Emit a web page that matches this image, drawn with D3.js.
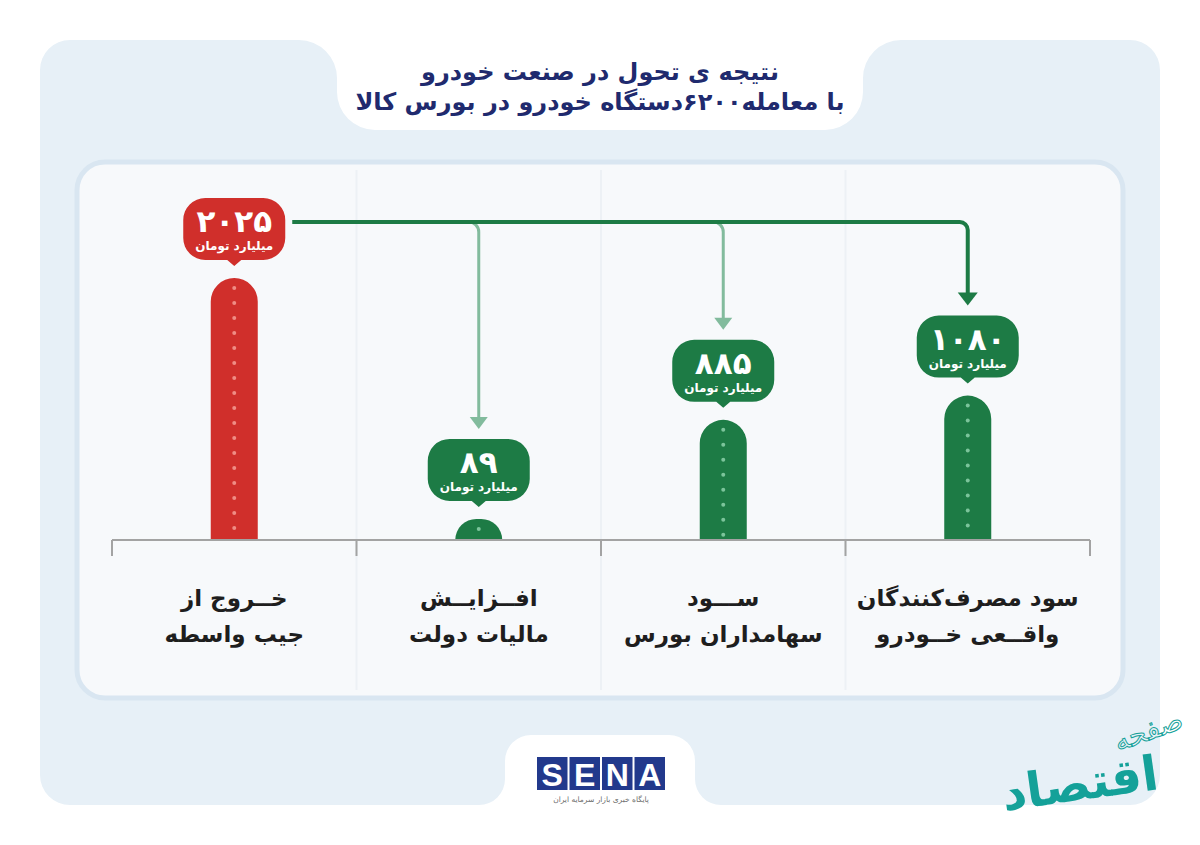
<!DOCTYPE html>
<html>
<head>
<meta charset="utf-8">
<script src="https://cdn.jsdelivr.net/npm/d3@7"></script>
<style>
  html, body { margin: 0; padding: 0; background: #ffffff; }
  svg { display: block; }
</style>
</head>
<body>
<svg id="chart"></svg>
<script>
// data
var titleLines = ["نتیجه ی تحول در صنعت خودرو", "با معامله۶۲۰۰دستگاه خودرو در بورس کالا"];
var categories = ["واسطه", "مالیات", "سهامداران", "مصرف‌کنندگان"];
var labelLines = [
    ["خــروج از", "جیب واسطه"],
    ["افــزایــش", "مالیات دولت"],
    ["ســـود", "سهامداران بورس"],
    ["سود مصرف‌کنندگان", "واقــعی خــودرو"]
];
var values = [2025, 89, 885, 1080];
var kinds = ["loss", "gain", "gain", "gain"];
var unitLabel = "میلیارد تومان";

var w = 1200, h = 845;
var font = "'DejaVu Sans', sans-serif";
var colors = {
    loss: "#d02f2b", lossDot: "#ef8c84",
    gain: "#1d7b45", gainDot: "#7cc49b",
    branch: "#82bb9d",
    title: "#202a6e",
    label: "#1e1e1e",
    panel: "#e7f0f7",
    card: "#f7f9fb",
    cardLine: "#d9e6f1",
    axis: "#a3a3a3"
};

var baseY = 540, topY = 278;
var axisLeft = 112, axisRight = 1090;

var svg = d3.select("#chart").attr("width", w).attr("height", h);

function drawBackground() {
    var R = 30, r = 38, r2 = 26;
    var L = 40, T = 40, Rt = 1160, B = 805;
    var xl = 337, xr = 863, yb = 130;
    var xl2 = 505, xr2 = 695, yt = 735;
    var p = d3.path();
    p.moveTo(L + R, T);
    p.lineTo(xl - r, T);
    p.arcTo(xl, T, xl, T + r, r);
    p.lineTo(xl, yb - r);
    p.arcTo(xl, yb, xl + r, yb, r);
    p.lineTo(xr - r, yb);
    p.arcTo(xr, yb, xr, yb - r, r);
    p.lineTo(xr, T + r);
    p.arcTo(xr, T, xr + r, T, r);
    p.lineTo(Rt - R, T);
    p.arcTo(Rt, T, Rt, T + R, R);
    p.lineTo(Rt, B - R);
    p.arcTo(Rt, B, Rt - R, B, R);
    p.lineTo(xr2 + r2, B);
    p.arcTo(xr2, B, xr2, B - r2, r2);
    p.lineTo(xr2, yt + r2);
    p.arcTo(xr2, yt, xr2 - r2, yt, r2);
    p.lineTo(xl2 + r2, yt);
    p.arcTo(xl2, yt, xl2, yt + r2, r2);
    p.lineTo(xl2, B - r2);
    p.arcTo(xl2, B, xl2 - r2, B, r2);
    p.lineTo(L + R, B);
    p.arcTo(L, B, L, B - R, R);
    p.lineTo(L, T + R);
    p.arcTo(L, T, L + R, T, R);
    p.closePath();
    svg.append("path").attr("d", p.toString()).attr("fill", colors.panel);

    svg.append("rect")
        .attr("x", 77).attr("y", 162)
        .attr("width", 1046).attr("height", 536)
        .attr("rx", 28)
        .attr("fill", colors.card)
        .attr("stroke", colors.cardLine)
        .attr("stroke-width", 5);
}

function drawTitle() {
    svg.selectAll(".title")
        .data(titleLines)
        .enter().append("text")
        .attr("class", "title")
        .attr("x", w / 2)
        .attr("y", function(d, i) { return 80 + i * 30; })
        .attr("text-anchor", "middle")
        .attr("direction", "rtl")
        .attr("font-family", font)
        .attr("font-weight", "bold")
        .attr("font-size", "24px")
        .attr("fill", colors.title)
        .text(function(d) { return d; });
}

function barPath(cx, top, bottom, bw) {
    var rad = Math.min(bw / 2, bottom - top);
    var x0 = cx - bw / 2, x1 = cx + bw / 2;
    var p = d3.path();
    p.moveTo(x0, bottom);
    p.lineTo(x0, top + rad);
    p.arcTo(x0, top, x0 + rad, top, rad);
    p.lineTo(x1 - rad, top);
    p.arcTo(x1, top, x1, top + rad, rad);
    p.lineTo(x1, bottom);
    p.closePath();
    return p.toString();
}

function bubblePath(cx, top) {
    var bw = 102, bh = 62, br = 22, pw = 7, ph = 6;
    var x0 = cx - bw / 2, x1 = cx + bw / 2, y1 = top + bh;
    var p = d3.path();
    p.moveTo(x0 + br, top);
    p.lineTo(x1 - br, top);
    p.arcTo(x1, top, x1, top + br, br);
    p.lineTo(x1, y1 - br);
    p.arcTo(x1, y1, x1 - br, y1, br);
    p.lineTo(cx + pw, y1);
    p.lineTo(cx, y1 + ph);
    p.lineTo(cx - pw, y1);
    p.lineTo(x0 + br, y1);
    p.arcTo(x0, y1, x0, y1 - br, br);
    p.lineTo(x0, top + br);
    p.arcTo(x0, top, x0 + br, top, br);
    p.closePath();
    return p.toString();
}

function draw() {
    drawBackground();
    drawTitle();

    var x = d3.scaleBand().domain(categories).range([axisLeft, axisRight]);
    // small stub so the smallest bar still shows its rounded top
    var y = d3.scaleLinear().domain([0, d3.max(values)]).range([baseY - 10, topY]);

    var data = categories.map(function(c, i) {
        return { cat: c, value: values[i], kind: kinds[i], lines: labelLines[i] };
    });
    data.forEach(function(d) {
        d.cx = x(d.cat) + x.bandwidth() / 2;
        d.top = y(d.value);
        d.bubbleTop = d.top - 80;
    });

    // faint column dividers
    var bounds = categories.slice(1).map(function(c) { return x(c); });
    svg.selectAll(".divider")
        .data(bounds)
        .enter().append("line")
        .attr("x1", function(d) { return d; }).attr("x2", function(d) { return d; })
        .attr("y1", 170).attr("y2", 690)
        .attr("stroke", "#edf1f5")
        .attr("stroke-width", 2);

    // arrows from the loss bar to each gain
    var source = data[0], targets = data.slice(1);
    var lineY = 222, arrowColor = colors.gain;
    var last = targets[targets.length - 1];

    targets.slice(0, -1).forEach(function(d) {
        var tip = d.bubbleTop - 10, cr = 10;
        var p = d3.path();
        p.moveTo(d.cx - cr - 2, lineY);
        p.arcTo(d.cx, lineY, d.cx, lineY + cr, cr);
        p.lineTo(d.cx, tip - 10);
        svg.append("path").attr("d", p.toString())
            .attr("fill", "none").attr("stroke", colors.branch).attr("stroke-width", 3);
        svg.append("path")
            .attr("d", "M" + (d.cx - 9) + "," + (tip - 12) + "L" + (d.cx + 9) + "," + (tip - 12) + "L" + d.cx + "," + tip + "Z")
            .attr("fill", colors.branch);
    });

    var tipL = last.bubbleTop - 10, crL = 8;
    var main = d3.path();
    main.moveTo(source.cx + 58, lineY);
    main.lineTo(last.cx - crL, lineY);
    main.arcTo(last.cx, lineY, last.cx, lineY + crL, crL);
    main.lineTo(last.cx, tipL - 10);
    svg.append("path").attr("d", main.toString())
        .attr("fill", "none").attr("stroke", arrowColor).attr("stroke-width", 4);
    svg.append("path")
        .attr("d", "M" + (last.cx - 10) + "," + (tipL - 13) + "L" + (last.cx + 10) + "," + (tipL - 13) + "L" + last.cx + "," + tipL + "Z")
        .attr("fill", arrowColor);

    // bars
    var bars = svg.selectAll(".bar")
        .data(data)
        .enter().append("g")
        .attr("class", "bar");

    bars.append("path")
        .attr("d", function(d) { return barPath(d.cx, d.top, baseY, 47); })
        .attr("fill", function(d) { return colors[d.kind]; });

    bars.each(function(d) {
        var dots = d3.range(d.top + 10, baseY - 2, 15);
        d3.select(this).selectAll("circle")
            .data(dots)
            .enter().append("circle")
            .attr("cx", d.cx)
            .attr("cy", function(v) { return v; })
            .attr("r", 2)
            .attr("fill", colors[d.kind + "Dot"]);
    });

    // value callouts
    bars.append("path")
        .attr("d", function(d) { return bubblePath(d.cx, d.bubbleTop); })
        .attr("fill", function(d) { return colors[d.kind]; });

    bars.append("text")
        .attr("x", function(d) { return d.cx; })
        .attr("y", function(d) { return d.bubbleTop + 34; })
        .attr("text-anchor", "middle")
        .attr("font-family", font)
        .attr("font-weight", "bold")
        .attr("font-size", "31px")
        .attr("fill", "#ffffff")
        .text(function(d) { return d.value.toLocaleString("fa-IR", { useGrouping: false }); });

    bars.append("text")
        .attr("x", function(d) { return d.cx; })
        .attr("y", function(d) { return d.bubbleTop + 52; })
        .attr("text-anchor", "middle")
        .attr("direction", "rtl")
        .attr("font-family", font)
        .attr("font-weight", "bold")
        .attr("font-size", "12px")
        .attr("fill", "#ffffff")
        .text(unitLabel);

    // axis line with ticks at the band edges
    svg.append("line")
        .attr("x1", axisLeft).attr("x2", axisRight)
        .attr("y1", baseY).attr("y2", baseY)
        .attr("stroke", colors.axis).attr("stroke-width", 2);
    var edges = categories.map(function(c) { return x(c); }).concat([axisRight]);
    svg.selectAll(".tick")
        .data(edges)
        .enter().append("line")
        .attr("x1", function(d) { return d; }).attr("x2", function(d) { return d; })
        .attr("y1", baseY).attr("y2", baseY + 16)
        .attr("stroke", colors.axis).attr("stroke-width", 2);

    // category labels
    data.forEach(function(d) {
        svg.selectAll(null)
            .data(d.lines)
            .enter().append("text")
            .attr("x", d.cx)
            .attr("y", function(t, i) { return 606 + i * 36; })
            .attr("text-anchor", "middle")
            .attr("direction", "rtl")
            .attr("font-family", font)
            .attr("font-weight", "bold")
            .attr("font-size", "23px")
            .attr("fill", colors.label)
            .text(function(t) { return t; });
    });

    drawFooter();
}

function drawFooter() {
    var letters = ["S", "E", "N", "A"];
    var lx = 537, bw = 30.5, gap = 2;
    var g = svg.append("g");
    g.selectAll("rect")
        .data(letters)
        .enter().append("rect")
        .attr("x", function(d, i) { return lx + i * (bw + gap); })
        .attr("y", 757)
        .attr("width", bw).attr("height", 33)
        .attr("fill", "#22398c");
    g.selectAll("text.logo")
        .data(letters)
        .enter().append("text")
        .attr("class", "logo")
        .attr("x", function(d, i) { return lx + i * (bw + gap) + bw / 2; })
        .attr("y", 786)
        .attr("text-anchor", "middle")
        .attr("font-family", "'Liberation Sans', Arial, sans-serif")
        .attr("font-weight", "bold")
        .attr("font-size", "32px")
        .attr("fill", "#ffffff")
        .text(function(d) { return d; });
    g.append("text")
        .attr("x", 601).attr("y", 802)
        .attr("text-anchor", "middle")
        .attr("direction", "rtl")
        .attr("font-family", font)
        .attr("font-size", "7.5px")
        .attr("fill", "#6b6b6b")
        .text("پایگاه خبری بازار سرمایه ایران");

    // watermark, bottom right
    svg.append("text")
        .attr("x", 1080).attr("y", 800)
        .attr("text-anchor", "middle")
        .attr("font-family", font)
        .attr("font-weight", "bold")
        .attr("font-size", "48px")
        .attr("fill", "#14a199")
        .attr("transform", "rotate(-8,1080,785)")
        .text("اقتصاد");
    svg.append("text")
        .attr("x", 1148).attr("y", 740)
        .attr("text-anchor", "middle")
        .attr("font-family", font)
        .attr("font-size", "28px")
        .attr("fill", "none")
        .attr("stroke", "#14a199")
        .attr("stroke-width", 1)
        .attr("transform", "rotate(-20,1148,730)")
        .text("صفحه");
}

draw();
</script>
</body>
</html>
